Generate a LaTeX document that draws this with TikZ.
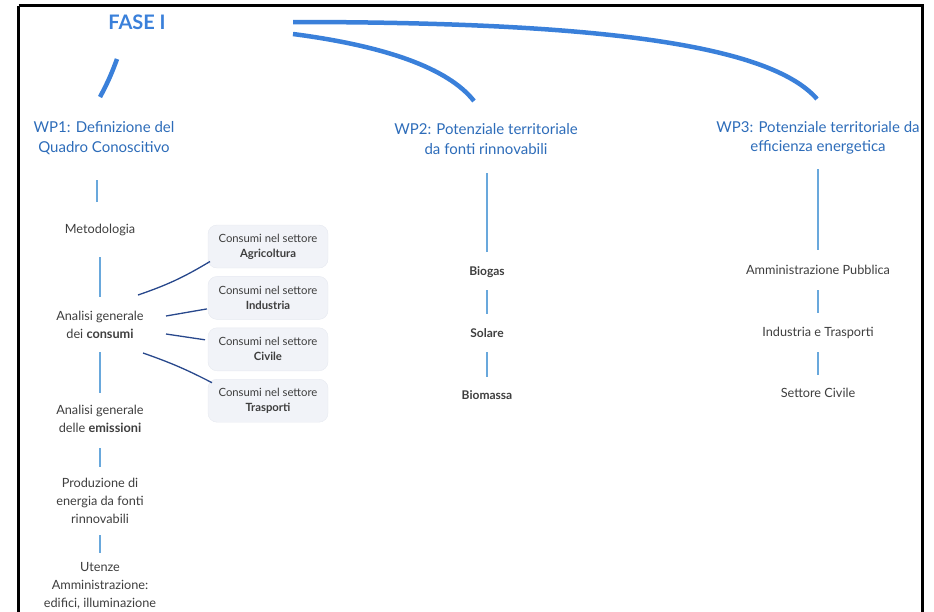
\documentclass[tikz,border=0pt]{standalone}
\usepackage{fontspec}
\setmainfont{Lato}
\usetikzlibrary{positioning}

\definecolor{faseblue}{RGB}{58,128,218}
\definecolor{wpblue}{RGB}{45,108,185}
\definecolor{linkblue}{RGB}{105,168,220}
\definecolor{spokeblue}{RGB}{40,72,140}
\definecolor{txtgray}{RGB}{62,62,62}
\definecolor{boxfill}{RGB}{241,243,248}
\definecolor{boxline}{RGB}{230,233,240}

\begin{document}
\begin{tikzpicture}[
  x=1pt, y=-1pt,
  item/.style={text=txtgray, align=center, inner sep=0pt,
    font=\fontsize{12.7}{18}\selectfont},
  source/.style={item, font=\fontsize{12}{18}\selectfont\bfseries},
  wp/.style={text=wpblue, align=center, inner sep=0pt,
    font=\fontsize{15}{19.5}\selectfont},
  sector/.style={rounded corners=9pt, fill=boxfill, draw=boxline,
    minimum width=120pt, minimum height=43pt, align=center, inner sep=0pt,
    text=txtgray, font=\fontsize{11.3}{15}\selectfont},
  trunk/.style={draw=faseblue, line width=4.5pt},
  link/.style={draw=linkblue, line width=1.1pt},
  spoke/.style={draw=spokeblue, line width=1.3pt}
]
\useasboundingbox (0,0) rectangle (934,611);
\draw[line width=3pt] (18.5,5.5) -- (922.5,5.5) -- (922.5,640) (18.5,5.5) -- (18.5,640);

% fase and work packages
\node[text=faseblue, font=\fontsize{20}{20}\selectfont\bfseries] (fase) at (137,22) {FASE I};
\node[wp] (wp1) at (104,138) {WP1: Definizione del\\Quadro Conoscitivo};
\node[wp] (wp2) at (486,139) {WP2: Potenziale territoriale\\da fonti rinnovabili};
\node[wp] (wp3) at (818,138) {WP3: Potenziale territoriale da\\efficienza energetica};

\coordinate (rootW) at (117,59);
\coordinate (rootA) at (293,22);
\coordinate (rootB) at (293,34);
\draw[trunk] (rootW) to[bend left=4] ([shift={(-4,-41)}]wp1.center);
\draw[trunk] (rootA) .. controls (600,22) and (770,45) .. ([shift={(-1,-39)}]wp3.center);
\draw[trunk] (rootB) .. controls (385,46) and (448,68) .. ([shift={(-12,-38)}]wp2.center);

% WP1 column
\node[item] (meto) at (100,230) {Metodologia};
\node[item] (consumi) at (100,325) {Analisi generale\\dei \textbf{consumi}};
\node[item] (emiss) at (100,419) {Analisi generale\\delle \textbf{emissioni}};
\node[item] (prod) at (100,501) {Produzione di\\energia da fonti\\rinnovabili};
\node[item] (utenze) at (100,586) {Utenze\\Amministrazione:\\edifici, illuminazione};

\node[sector] (agri) at (268,246.5) {Consumi nel settore\\\textbf{Agricoltura}};
\node[sector, below=8pt of agri] (indu) {Consumi nel settore\\\textbf{Industria}};
\node[sector, below=8pt of indu] (civi) {Consumi nel settore\\\textbf{Civile}};
\node[sector, below=8pt of civi] (tras) {Consumi nel settore\\\textbf{Trasporti}};

\draw[link, shorten <=28pt, shorten >=42pt] ([xshift=-3pt]meto.center) -- ([xshift=-3pt]meto.center |- wp1.center);
\draw[link, shorten <=27pt, shorten >=28pt] (meto.center) -- (consumi.center);
\draw[link, shorten <=27pt, shorten >=26pt] (consumi.center) -- (emiss.center);
\draw[link, shorten <=29pt, shorten >=34pt] (emiss.center) -- (prod.center);
\draw[link, shorten <=34pt, shorten >=33pt] (prod.center) -- (utenze.center);

\draw[spoke] ([shift={(38,-30)}]consumi.center) to[bend right=6] ([shift={(-58,15)}]agri.center);
\draw[spoke] ([shift={(66,-9)}]consumi.center) -- ([shift={(-61,11)}]indu.center);
\draw[spoke] ([shift={(66,9)}]consumi.center) -- ([shift={(-63,-9.5)}]civi.center);
\draw[spoke] ([shift={(43,28)}]consumi.center) to[bend left=4] ([shift={(-56,-18)}]tras.center);

% WP2 column
\node[source] (biogas) at (487,272) {Biogas};
\node[source] (solare) at (487,333) {Solare};
\node[source] (biomassa) at (487,395) {Biomassa};

\draw[link, shorten <=20pt, shorten >=34pt] (biogas.center) -- (biogas.center |- wp2.center);
\draw[link, shorten <=18pt, shorten >=19pt] (biogas.center) -- (solare.center);
\draw[link, shorten <=19pt, shorten >=18pt] (solare.center) -- (biomassa.center);

% WP3 column
\node[item] (pa) at (818,270) {Amministrazione Pubblica};
\node[item] (indtr) at (818,333) {Industria e Trasporti};
\node[item] (civile) at (818,393) {Settore Civile};

\draw[link, shorten <=31pt, shorten >=20pt] (wp3.center) -- (pa.center);
\draw[link, shorten <=20pt, shorten >=20pt] (pa.center) -- (indtr.center);
\draw[link, shorten <=19pt, shorten >=18pt] (indtr.center) -- (civile.center);
\end{tikzpicture}
\end{document}
